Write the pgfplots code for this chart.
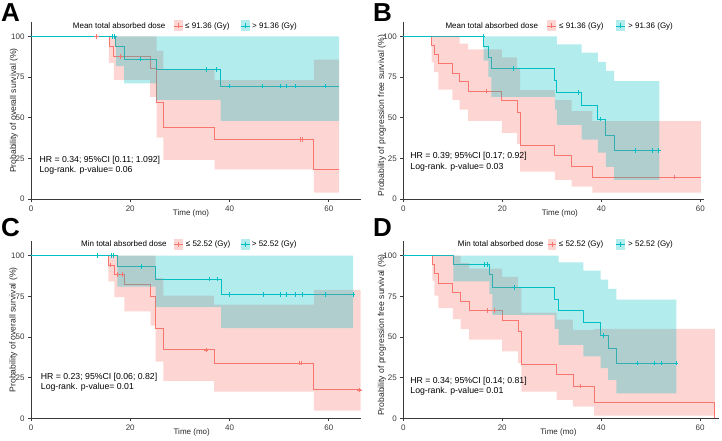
\documentclass[border=0pt]{standalone}
\usepackage{pgfplots}
\pgfplotsset{compat=1.18}
\usepackage{fontspec}
\setmainfont{Liberation Sans}
\definecolor{kmred}{HTML}{F8766D}
\definecolor{kmteal}{HTML}{00BFC4}
\definecolor{axc}{HTML}{3A3A3A}
\newcommand\fs{\fontsize{8}{9.6}\selectfont}
\newcommand\fsl{\fontsize{8.6}{10}\selectfont}
\newcommand\fsh{\fontsize{8.7}{10}\selectfont}

% bands: upper limit forward, then lower limit backward (const plot outline)

% ---- panel A: overall survival, mean dose
\pgfplotstableread{
x s
0 100
15.7 93.9
16.7 87.7
24.0 80.3
25.3 59.2
26.7 44
37.0 36.6
57.0 18.2
62.1 18.2
}\ARl
\pgfplotstableread{
x s
15.7 100
16.7 100
24.0 100
25.3 91
26.7 79.5
37.0 73
57.0 85.7
62.1 85.7
62.1 3.9
57.0 18.2
37.0 24
26.7 37.8
25.3 62.8
24.0 73.3
16.7 83.6
15.7 83.6
}\ARc
\pgfplotstableread{
x s
13.2 100
18.0 87.7
54.2 36.6
54.6 36.6
}\ARm
\pgfplotstableread{
x s
0 100
17.1 93.5
18.75 86.1
25.2 79.5
38.2 69.3
62.1 69.3
}\ATl
\pgfplotstableread{
x s
17.1 100
18.75 100
25.2 100
38.2 100
62.1 100
62.1 48
38.2 61
25.2 71
18.75 81.6
17.1 81.6
}\ATc
\pgfplotstableread{
x s
16.3 100
16.8 100
22.1 86.1
35.4 79.5
37.4 79.5
40.0 69.3
46.7 69.3
50.3 69.3
51.5 69.3
53.3 69.3
59.3 69.3
}\ATm

% ---- panel B: progression free survival, mean dose
\pgfplotstableread{
x s
0 100
5.7 94.5
6.2 89
7.1 83.2
9.9 77.5
11.4 72
13.1 66.3
19.9 60.7
23.0 53.5
23.6 33.1
30.6 26.7
34.0 20.2
38.2 13.5
60.1 13.5
}\BRl
\pgfplotstableread{
x s
5.7 100
6.2 100
7.1 100
9.9 100
11.4 95.5
13.1 92
19.9 87
23.0 80
23.6 67
30.6 60.7
34.0 54
38.2 47.9
60.1 47.9
60.1 3.9
38.2 7.6
34.0 11.7
30.6 16.8
23.6 33.7
23.0 40.7
19.9 48
13.1 55
11.4 60.7
9.9 67.3
7.1 78
6.2 84
5.7 84
}\BRc
\pgfplotstableread{
x s
16.7 66.3
54.7 13.5
}\BRm
\pgfplotstableread{
x s
0 100
16.2 93.5
17.2 87
17.8 80.2
30.6 73
31.0 65.4
36.0 57.7
39.3 49.1
40.9 39
42.6 29.7
51.7 29.7
}\BTl
\pgfplotstableread{
x s
16.2 100
17.2 100
17.8 100
30.6 100
31.0 95.1
36.0 90
39.3 84.3
40.9 78.7
42.6 72.4
51.7 72.4
51.7 11.7
42.6 19.8
40.9 28.5
39.3 36.5
36.0 45.5
31.0 55
30.6 62.8
17.8 75
17.2 85
16.2 85
}\BTc
\pgfplotstableread{
x s
16.1 100
22.2 80.2
35.4 65.4
39.8 49.1
46.8 29.7
50.3 29.7
51.6 29.7
}\BTm

% ---- panel C: overall survival, min dose
\pgfplotstableread{
x s
0 100
15.6 94.2
16.8 88.3
18.8 82.1
24.1 75
25.1 55
26.7 42.1
36.9 33.9
57.0 17.5
66.4 17.5
}\CRl
\pgfplotstableread{
x s
15.6 100
16.8 100
18.8 100
24.1 100
25.1 86.2
26.7 75.4
36.9 69.8
57.0 79
66.4 79
66.4 4.7
57.0 16.4
36.9 23
26.7 34.9
25.1 56.9
24.1 65.7
18.8 74.5
16.8 84.2
15.6 84.2
}\CRc
\pgfplotstableread{
x s
15.9 94.2
17.3 88.3
18.3 88.3
35.3 42.1
54.0 33.9
54.4 33.9
66.2 17.5
}\CRm
\pgfplotstableread{
x s
0 100
17.4 93.4
25.1 85.6
38.3 76
64.9 76
}\CTl
\pgfplotstableread{
x s
17.4 100
25.1 100
38.3 100
64.9 100
64.9 55.4
38.3 68.4
25.1 81
17.4 81
}\CTc
\pgfplotstableread{
x s
13.3 100
16.2 100
16.6 100
22.3 93.4
35.9 85.6
37.5 85.6
40.0 76
46.8 76
50.3 76
51.5 76
53.3 76
54.6 76
59.4 76
64.9 76
}\CTm

% ---- panel D: progression free survival, min dose
\pgfplotstableread{
x s
0 100
5.9 94.5
6.3 88.9
7.1 83.2
10.0 77.4
11.6 71.9
13.3 66.3
20.0 60.2
23.2 53.4
23.9 32.9
31.0 26.7
34.3 19.9
38.6 9.9
63.0 9.9
63.0 0
}\DRl
\pgfplotstableread{
x s
5.9 100
6.3 100
7.1 100
10.0 100
11.6 95.5
13.3 92
20.0 87
23.2 80
23.9 65
31.0 60.6
34.3 54.4
38.6 55
63.0 55
63.0 1.6
38.6 7.2
34.3 11.3
31.0 16.4
23.9 33.9
23.2 41.1
20.0 48.3
13.3 54.8
11.6 61
10.0 67.8
7.1 75.4
6.3 84.6
5.9 84.6
}\DRc
\pgfplotstableread{
x s
17.0 66.3
18.4 66.3
35.7 19.9
}\DRm
\pgfplotstableread{
x s
0 100
10.1 94.5
17.4 88.3
18.0 80.5
30.6 72.9
31.4 66.1
36.4 58.8
39.9 51
41.4 42.9
43.1 33.9
55.2 33.9
}\DTl
\pgfplotstableread{
x s
10.1 100
17.4 100
18.0 100
30.6 100
31.4 95.9
36.4 90.8
39.9 85.2
41.4 79.5
43.1 72.9
55.2 72.9
55.2 15.4
43.1 23.6
41.4 30.8
39.9 38
36.4 45.2
31.4 55
30.6 63.5
18.0 76.5
17.4 84.2
10.1 84.2
}\DTc
\pgfplotstableread{
x s
16.4 94.5
16.9 94.5
22.4 80.5
40.4 51
47.3 33.9
50.8 33.9
52.1 33.9
55.2 33.9
}\DTm

\pgfplotsset{
  km/.style={
    scale only axis, height=177pt, anchor=south west,
    xmin=0, ymin=0, ymax=108.8,
    axis x line*=bottom, axis y line*=left,
    axis line style={axc, line width=0.7pt},
    every tick/.style={axc, line width=0.6pt},
    tick align=outside, major tick length=3pt,
    xtick={0,20,40,60}, ytick={0,25,50,75,100},
    tick label style={font=\fs, text=axc},
    /pgf/number format/assume math mode=true,
    xlabel style={font=\fs, text=black!85},
    ylabel style={font=\fsl, text=black!85},
    xlabel={Time (mo)},
    clip=false,
  },
  kml/.style={const plot, line width=0.8pt, mark=none},
  cens/.style={only marks, mark=+, mark size=2.2pt, line width=0.6pt},
  band/.style={const plot, draw=none, mark=none, fill=#1, fill opacity=0.3},
}

\newcommand\kmplots[6]{%
  \addplot[kml, kmred] table[x=x,y=s] {#1};
  \addplot[kml, kmteal] table[x=x,y=s] {#4};
  \addplot[cens, kmred] table[x=x,y=s] {#3};
  \addplot[cens, kmteal] table[x=x,y=s] {#6};
  \addplot[band=kmred] table[x=x,y=s] {#2} -- cycle;
  \addplot[band=kmteal] table[x=x,y=s] {#5} -- cycle;
}

% legend key: x1, x2, xmid, y, colour
\newcommand\kmkey[5]{%
  \fill[#5, fill opacity=0.3] (#1pt,#4pt-5.5pt) rectangle (#2pt,#4pt+5.5pt);
  \draw[#5, line width=0.7pt] (#1pt,#4pt) -- (#2pt,#4pt);
  \draw[#5, line width=0.7pt] (#3pt,#4pt-2.5pt) -- (#3pt,#4pt+2.5pt);
}

\begin{document}
\begin{tikzpicture}
\useasboundingbox (0,0) rectangle (722pt,440pt);

% A
\begin{axis}[km, at={(31pt,241pt)}, width=330pt, xmax=66.5,
  ylabel={Probability of overall survival (\%)},
  xlabel style={at={(axis description cs:0.485,0)}, anchor=center, yshift=-14.3pt},
  ylabel style={at={(axis description cs:-0.0515,0.5)}, anchor=center}]
\kmplots{\ARl}{\ARc}{\ARm}{\ATl}{\ATc}{\ATm}
\node[anchor=west, inner sep=0, font=\fsh] at (axis cs:1.7,23.8) {HR = 0.34; 95\%CI [0.11; 1.092]};
\node[anchor=west, inner sep=0, font=\fsh] at (axis cs:1.7,17.8) {Log-rank. p-value= 0.06};
\end{axis}

% B
\begin{axis}[km, at={(403.3pt,241pt)}, width=301pt, xmax=60.8,
  ylabel={Probability of progression free survival (\%)},
  xlabel style={at={(axis description cs:0.52,0)}, anchor=center, yshift=-14.3pt},
  ylabel style={at={(axis description cs:-0.0708,0.47)}, anchor=center}]
\kmplots{\BRl}{\BRc}{\BRm}{\BTl}{\BTc}{\BTm}
\node[anchor=west, inner sep=0, font=\fsh] at (axis cs:1.4,26) {HR = 0.39; 95\%CI [0.17; 0.92]};
\node[anchor=west, inner sep=0, font=\fsh] at (axis cs:1.4,19.5) {Log-rank. p-value= 0.03};
\end{axis}

% C
\begin{axis}[km, at={(31pt,21.7pt)}, width=330pt, xmax=66.5,
  ylabel={Probability of overall survival (\%)},
  xlabel style={at={(axis description cs:0.487,0)}, anchor=center, yshift=-14.3pt},
  ylabel style={at={(axis description cs:-0.0536,0.5)}, anchor=center}]
\kmplots{\CRl}{\CRc}{\CRm}{\CTl}{\CTc}{\CTm}
\node[anchor=west, inner sep=0, font=\fsh] at (axis cs:1.96,25.3) {HR = 0.23; 95\%CI [0.06; 0.82]};
\node[anchor=west, inner sep=0, font=\fsh] at (axis cs:1.96,18.9) {Log-rank. p-value= 0.01};
\end{axis}

% D
\begin{axis}[km, at={(403.3pt,21.7pt)}, width=316pt, xmax=63.9,
  ylabel={Probability of progression free survival (\%)},
  xlabel style={at={(axis description cs:0.491,0)}, anchor=center, yshift=-14.3pt},
  ylabel style={at={(axis description cs:-0.0674,0.47)}, anchor=center}]
\kmplots{\DRl}{\DRc}{\DRm}{\DTl}{\DTc}{\DTm}
\node[anchor=west, inner sep=0, font=\fsh] at (axis cs:1.4,22.6) {HR = 0.34; 95\%CI [0.14; 0.81]};
\node[anchor=west, inner sep=0, font=\fsh] at (axis cs:1.4,16.6) {Log-rank. p-value= 0.01};
\end{axis}

% legends
\node[anchor=west, inner sep=0, font=\fs] at (72.7pt,414pt) {Mean total absorbed dose};
\kmkey{174}{182.7}{178.35}{414}{kmred}
\node[anchor=west, inner sep=0, font=\fs] at (185pt,414pt) {≤ 91.36 (Gy)};
\kmkey{240.7}{250}{245.35}{414}{kmteal}
\node[anchor=west, inner sep=0, font=\fs] at (252pt,414pt) {> 91.36 (Gy)};

\node[anchor=west, inner sep=0, font=\fs] at (445.3pt,414pt) {Mean total absorbed dose};
\kmkey{547}{556}{551.5}{414}{kmred}
\node[anchor=west, inner sep=0, font=\fs] at (559pt,414pt) {≤ 91.36 (Gy)};
\kmkey{616}{625}{620.5}{414}{kmteal}
\node[anchor=west, inner sep=0, font=\fs] at (628pt,414pt) {> 91.36 (Gy)};

\node[anchor=west, inner sep=0, font=\fs] at (81pt,196pt) {Min total absorbed dose};
\kmkey{174}{182.7}{178.35}{196}{kmred}
\node[anchor=west, inner sep=0, font=\fs] at (185.7pt,196pt) {≤ 52.52 (Gy)};
\kmkey{240.7}{250}{245.35}{196}{kmteal}
\node[anchor=west, inner sep=0, font=\fs] at (251.7pt,196pt) {> 52.52 (Gy)};

\node[anchor=west, inner sep=0, font=\fs] at (457.7pt,196pt) {Min total absorbed dose};
\kmkey{547.7}{556}{551.85}{196}{kmred}
\node[anchor=west, inner sep=0, font=\fs] at (558.7pt,196pt) {≤ 52.52 (Gy)};
\kmkey{616}{625}{620.5}{196}{kmteal}
\node[anchor=west, inner sep=0, font=\fs] at (628pt,196pt) {> 52.52 (Gy)};

% panel letters
\node[anchor=base west, inner sep=0, font=\fontsize{26}{26}\selectfont\bfseries] at (1pt,418.3pt) {A};
\node[anchor=base west, inner sep=0, font=\fontsize{26}{26}\selectfont\bfseries] at (373pt,418.3pt) {B};
\node[anchor=base west, inner sep=0, font=\fontsize{26}{26}\selectfont\bfseries] at (1pt,203.3pt) {C};
\node[anchor=base west, inner sep=0, font=\fontsize{26}{26}\selectfont\bfseries] at (373pt,203.3pt) {D};
\end{tikzpicture}
\end{document}
